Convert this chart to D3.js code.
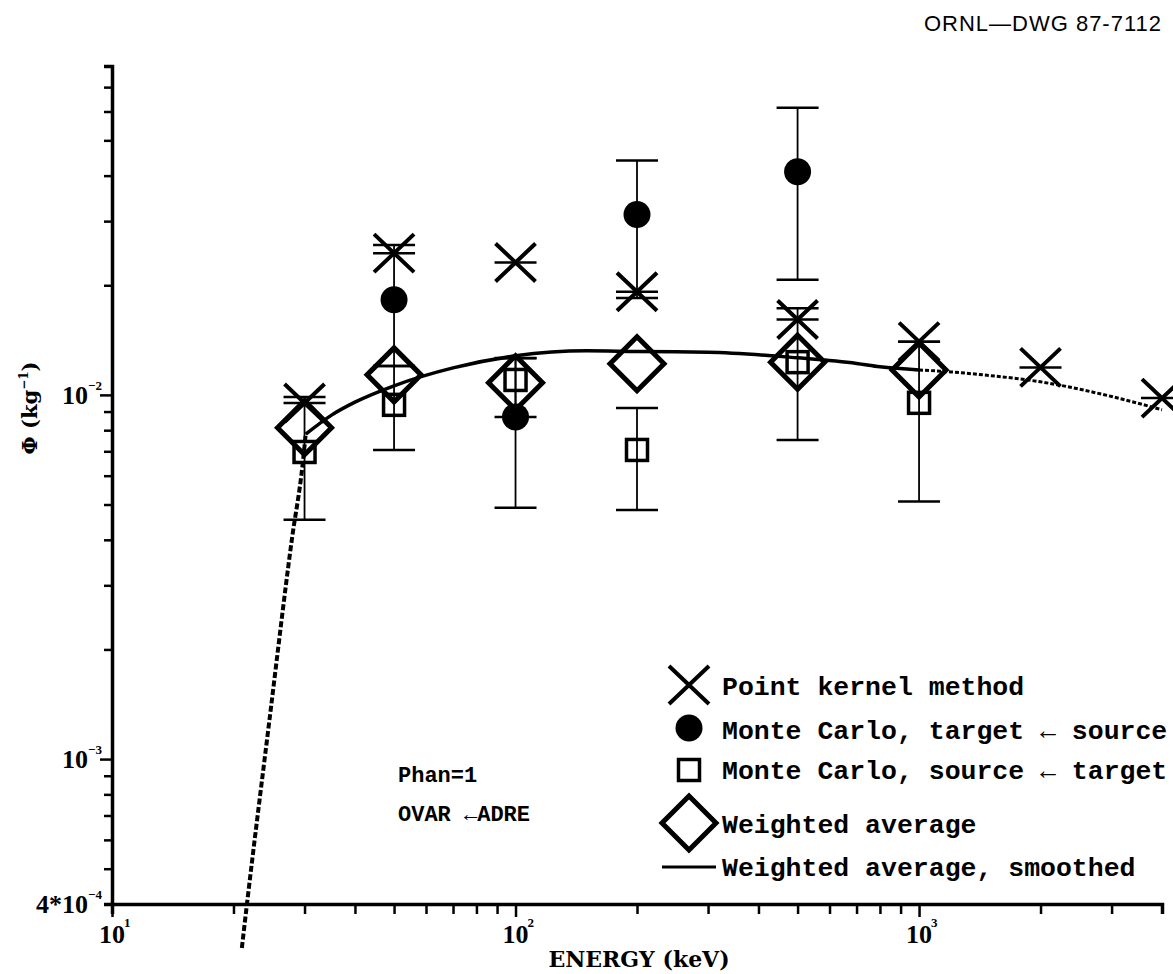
<!DOCTYPE html>
<html><head><meta charset="utf-8">
<script src="https://cdn.jsdelivr.net/npm/d3@7"></script>
<style>body{margin:0;background:#fff}svg{display:block}</style>
</head><body>
<svg id="c" width="1173" height="974"></svg>
<script>
// ---------- data ----------
// Point kernel method (X)
const pkEnergy = [30, 50, 100, 200, 500, 1000, 2000, 4000];
const pkValue  = [0.0095, 0.0245, 0.0231, 0.0192, 0.0161, 0.0140, 0.0119, 0.0098];
// Monte Carlo, target <- source (filled circles)
const mcTsEnergy = [50, 100, 200, 500];
const mcTsValue  = [0.01825, 0.0087, 0.0313, 0.0410];
const mcTsLow    = [0.0120, 0.0049, 0.01846, 0.0207];
const mcTsHigh   = [0.0258, 0.0126, 0.0440, 0.0614];
// Monte Carlo, source <- target (open squares)
const mcStEnergy = [30, 50, 100, 200, 500, 1000];
const mcStValue  = [0.00697, 0.00939, 0.01099, 0.00706, 0.0123, 0.00951];
const mcStLow    = [0.00454, 0.00706, 0.0087, 0.00483, 0.00752, 0.0051];
const mcStHigh   = [0.00987, 0.0120, 0.01263, 0.00921, 0.0173, 0.0140];
// Weighted average (diamonds)
const waEnergy = [30, 50, 100, 200, 500, 1000];
const waValue  = [0.00812, 0.01135, 0.0108, 0.01217, 0.0123, 0.01171];
// Weighted average, smoothed: dashed low-energy part, solid part, dotted high-energy part
const smLowEnergy  = [20.98, 21.6, 24.6, 27.9, 29.7, 30.2];
const smLowValue   = [3.03e-4, 4.0e-4, 1.30e-3, 4.0e-3, 6.5e-3, 7.8e-3];
const smMidEnergy  = [30.2, 35, 40, 50, 70, 100, 150, 200, 300, 500, 700, 800, 1000];
const smMidValue   = [7.8e-3, 8.8e-3, 9.55e-3, 0.01059, 0.01186, 0.01280, 0.01321, 0.01315, 0.0131, 0.01264, 0.0122, 0.01194, 0.01171];
const smHighEnergy = [1000, 1200, 1500, 2000, 3000, 4000];
const smHighValue  = [0.01171, 0.01156, 0.0113, 0.01086, 0.0099, 0.0091];
// axis labels
const xLabelValues = [10, 100, 1000];
const xLabelExp    = ["1", "2", "3"];
const yLabelValues = [4e-4, 1e-3, 1e-2];
const yLabelBase   = ["4*10", "10", "10"];
const yLabelExp    = ["−4", "−3", "−2"];
const legendItems  = ["Point kernel method", "Monte Carlo, target ← source", "Monte Carlo, source ← target", "Weighted average", "Weighted average, smoothed"];

// ---------- drawing ----------
const svg = d3.select("#c");
const X0 = 112, X1 = 1162, Y0 = 904, Y1 = 66;
const x = d3.scaleLog().domain([10, 4000]).range([X0, X1]);
const y = d3.scaleLog().domain([4e-4, 0.08]).range([Y0, Y1]);
const isMajor = d => Math.abs(Math.log10(d) - Math.round(Math.log10(d))) < 1e-9;
const tickFont = "'Liberation Serif', serif";

function decadeTicks(lo, hi, decs) {
  const t = [];
  for (const d of decs) for (let m = 1; m <= 9; m++) { const v = d * m; if (v >= lo * 0.9999 && v <= hi * 1.0001) t.push(v); }
  return t;
}

// X axis
const gx = svg.append("g").attr("transform", `translate(0,${Y0})`)
  .call(d3.axisBottom(x).tickValues(decadeTicks(10, 4000, [10, 100, 1000])).tickFormat("").tickSizeOuter(0).tickSize(10));
gx.select(".domain").attr("stroke-width", 3.5);
gx.selectAll(".tick line").attr("stroke-width", 2.5).attr("y2", d => isMajor(d) ? 13 : 10);

// Y axis
const gy = svg.append("g").attr("transform", `translate(${X0},0)`)
  .call(d3.axisLeft(y).tickValues(decadeTicks(4e-4, 0.08, [1e-4, 1e-3, 1e-2])).tickFormat("").tickSizeOuter(0).tickSize(8));
gy.select(".domain").attr("stroke-width", 3.5);
gy.selectAll(".tick line").attr("stroke-width", 2.5).attr("x2", d => isMajor(d) ? -12 : -8);

// tick labels
const xl = svg.append("g").attr("font-family", tickFont).attr("font-weight", "bold");
xLabelValues.forEach((v, i) => {
  xl.append("text").attr("x", x(v)).attr("y", Y0 + 39).attr("text-anchor", "middle").attr("font-size", 26).text("10");
  xl.append("text").attr("x", x(v) + 12).attr("y", Y0 + 23).attr("font-size", 13).text(xLabelExp[i]);
});
const yl = svg.append("g").attr("font-family", tickFont).attr("font-weight", "bold");
yLabelValues.forEach((v, i) => {
  yl.append("text").attr("x", 88).attr("y", y(v) + 9).attr("text-anchor", "end").attr("font-size", 26).text(yLabelBase[i]);
  yl.append("text").attr("x", 88).attr("y", y(v) - 5).attr("font-size", 13).text(yLabelExp[i]);
});

// axis titles
svg.append("text").attr("x", 639).attr("y", 967).attr("text-anchor", "middle")
  .attr("font-family", "'DejaVu Serif', serif").attr("font-weight", "bold").attr("font-size", 22).attr("fill", "#000").text("ENERGY (keV)");
const yt = svg.append("text").attr("transform", "translate(37,408) rotate(-90)").attr("text-anchor", "middle")
  .attr("font-family", "'DejaVu Serif', serif").attr("font-weight", "bold").attr("font-size", 21).attr("fill", "#000");
yt.append("tspan").text("Φ (kg");
yt.append("tspan").attr("font-size", 12).attr("dy", -9).text("−1");
yt.append("tspan").attr("dy", 9).text(")");

// drawing label
svg.append("text").attr("x", 1162).attr("y", 31).attr("text-anchor", "end")
  .attr("font-family", "'Liberation Sans', sans-serif").attr("font-size", 22).attr("letter-spacing", 1).text("ORNL—DWG 87-7112");

// annotations
const ann = svg.append("g").attr("font-family", "'Liberation Mono', monospace").attr("font-weight", "bold").attr("font-size", 22);
ann.append("text").attr("x", 398).attr("y", 782).attr("xml:space", "preserve").text("Phan=1");
ann.append("text").attr("x", 398).attr("y", 821).attr("xml:space", "preserve").text("OVAR ←ADRE");

// smoothed curve
const line = d3.line().x(d => x(d[0])).y(d => y(d[1])).curve(d3.curveMonotoneX);
const zip = (a, b) => a.map((v, i) => [v, b[i]]);
svg.append("path").attr("d", line(zip(smLowEnergy, smLowValue))).attr("fill", "none").attr("stroke", "#000")
  .attr("stroke-width", 4).attr("stroke-dasharray", "6,2.5");
svg.append("path").attr("d", line(zip(smMidEnergy, smMidValue))).attr("fill", "none").attr("stroke", "#000")
  .attr("stroke-width", 3.5);
svg.append("path").attr("d", line(zip(smHighEnergy, smHighValue))).attr("fill", "none").attr("stroke", "#000")
  .attr("stroke-width", 3).attr("stroke-dasharray", "4,2");

// error bars
const eb = svg.append("g").attr("stroke", "#000");
function errorBars(E, lo, hi) {
  E.forEach((e, i) => {
    const cx = x(e);
    eb.append("line").attr("x1", cx).attr("x2", cx).attr("y1", y(lo[i])).attr("y2", y(hi[i])).attr("stroke-width", 1.8);
    for (const v of [lo[i], hi[i]])
      eb.append("line").attr("x1", cx - 21).attr("x2", cx + 21).attr("y1", y(v)).attr("y2", y(v)).attr("stroke-width", 2.5);
  });
}
errorBars(mcStEnergy, mcStLow, mcStHigh);
errorBars(mcTsEnergy, mcTsLow, mcTsHigh);
// horizontal bar through each point-kernel X
pkEnergy.forEach((e, i) => {
  eb.append("line").attr("x1", x(e) - 21).attr("x2", x(e) + 21).attr("y1", y(pkValue[i])).attr("y2", y(pkValue[i])).attr("stroke-width", 2.5);
});

// markers
function drawX(g, cx, cy) {
  g.append("path").attr("d", `M${cx - 20},${cy - 19}L${cx + 20},${cy + 19}M${cx - 20},${cy + 19}L${cx + 20},${cy - 19}`)
    .attr("stroke", "#000").attr("stroke-width", 4).attr("fill", "none");
}
function drawCircle(g, cx, cy) { g.append("circle").attr("cx", cx).attr("cy", cy).attr("r", 13.5).attr("fill", "#000"); }
function drawSquare(g, cx, cy) {
  g.append("rect").attr("x", cx - 10.5).attr("y", cy - 10.5).attr("width", 21).attr("height", 21)
    .attr("fill", "none").attr("stroke", "#000").attr("stroke-width", 3.5);
}
function drawDiamond(g, cx, cy) {
  g.append("path").attr("d", `M${cx},${cy - 27}L${cx + 27},${cy}L${cx},${cy + 27}L${cx - 27},${cy}Z`)
    .attr("fill", "none").attr("stroke", "#000").attr("stroke-width", 5).attr("stroke-linejoin", "miter");
}
const mk = svg.append("g");
waEnergy.forEach((e, i) => drawDiamond(mk, x(e), y(waValue[i])));
mcStEnergy.forEach((e, i) => drawSquare(mk, x(e), y(mcStValue[i])));
mcTsEnergy.forEach((e, i) => drawCircle(mk, x(e), y(mcTsValue[i])));
pkEnergy.forEach((e, i) => drawX(mk, x(e), y(pkValue[i])));

// legend
const lg = svg.append("g");
const lgX = 689, lgTextX = 722;
const lgMarkY = [685, 728, 770, 823, 867];
const lgTextY = [695, 739, 779, 833, 876];
drawX(lg, lgX, lgMarkY[0]);
drawCircle(lg, lgX, lgMarkY[1]);
drawSquare(lg, lgX, lgMarkY[2]);
drawDiamond(lg, lgX, lgMarkY[3]);
lg.append("line").attr("x1", 662).attr("x2", 716).attr("y1", lgMarkY[4]).attr("y2", lgMarkY[4]).attr("stroke", "#000").attr("stroke-width", 3);
legendItems.forEach((t, i) => {
  lg.append("text").attr("x", lgTextX).attr("y", lgTextY[i]).attr("font-family", "'Liberation Mono', monospace")
    .attr("font-weight", "bold").attr("font-size", 26.5).attr("xml:space", "preserve").text(t);
});
</script>
</body></html>
